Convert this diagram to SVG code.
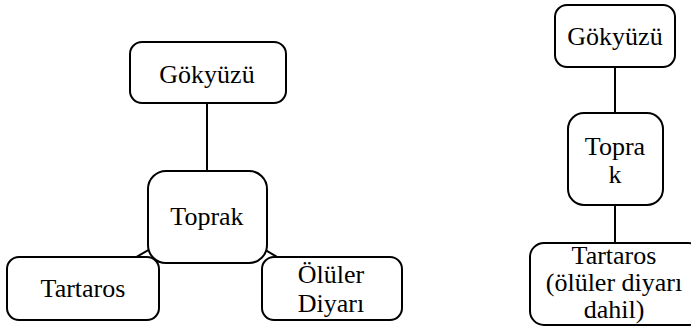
<svg xmlns="http://www.w3.org/2000/svg" width="691" height="327" viewBox="0 0 691 327">
<style>
.box{fill:#fff;stroke:#000;stroke-width:2}
.ln{stroke:#000;stroke-width:2;fill:none}
.t{font-family:'Liberation Serif','Times New Roman',serif;font-size:26px;fill:#000;text-anchor:middle}
</style>
<rect width="691" height="327" fill="#fff"/>
<g id="connectors">
<line class="ln" x1="207" y1="103" x2="207" y2="171"/>
<line class="ln" x1="207" y1="216" x2="83" y2="288"/>
<line class="ln" x1="207" y1="216" x2="332" y2="289"/>
<line class="ln" x1="615" y1="67" x2="615" y2="113"/>
<line class="ln" x1="615" y1="205" x2="615" y2="243"/>
</g>
<g id="tartaros1"><rect class="box" x="7" y="257" width="152" height="63" rx="12"/><text class="t" x="83" y="297">Tartaros</text></g>
<g id="oluler"><rect class="box" x="262" y="257" width="140" height="63" rx="12"/><text class="t" x="331" y="283">Ölüler</text><text class="t" x="331" y="312">Diyarı</text></g>
<g id="gokyuzu1"><rect class="box" x="130" y="42" width="156" height="61" rx="12"/><text class="t" x="207" y="83">Gökyüzü</text></g>
<g id="toprak1"><rect class="box" x="148" y="171" width="119" height="92" rx="18"/><text class="t" x="207" y="225">Toprak</text></g>
<g id="gokyuzu2"><rect class="box" x="555" y="5" width="120" height="62" rx="12"/><text class="t" x="615" y="45">Gökyüzü</text></g>
<g id="toprak2"><rect class="box" x="568" y="113" width="95" height="92" rx="16"/><text class="t" x="615" y="155">Topra</text><text class="t" x="615" y="183">k</text></g>
<g id="tartaros2"><rect class="box" x="530" y="243" width="172" height="82" rx="14"/><text class="t" x="614" y="264">Tartaros</text><text class="t" x="614" y="291">(ölüler diyarı</text><text class="t" x="614" y="318">dahil)</text></g>
</svg>
